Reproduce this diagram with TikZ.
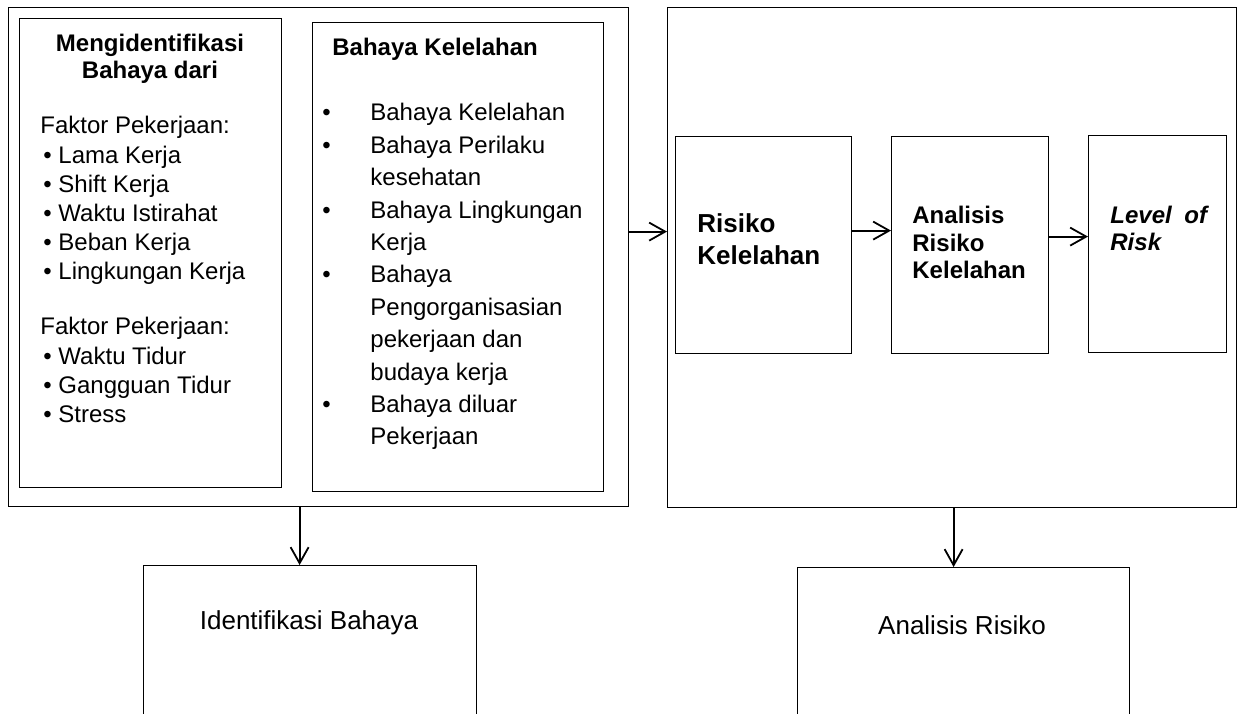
\documentclass[tikz,border=0pt]{standalone}
\usepackage{fontspec}
\setmainfont{Liberation Sans}
\usetikzlibrary{arrows.meta}
\newcommand{\bulmark}{\makebox[24pt][l]{•}}
\newcommand{\bulgap}{\hspace*{24pt}}
\tikzset{
  bx/.style={draw,line width=0.6pt,inner sep=0,anchor=north west},
  txt/.style={inner sep=0,anchor=north west,align=left,font=\fontsize{12}{#1}\selectfont},
  arr/.style={-{Straight Barb[length=8pt,width=9pt]},line width=0.9pt},
}
\begin{document}
\begin{tikzpicture}[x=0.5pt,y=-0.5pt]
\useasboundingbox (0,0) rectangle (1240,713);
\clip (0,0) rectangle (1240,713);
% outer frames
\node[bx,minimum width=310pt,minimum height=249.5pt] (outL) at (8,7) {};
\node[bx,minimum width=284.5pt,minimum height=250pt] (outR) at (667,7) {};
% left side
\node[bx,minimum width=131pt,minimum height=234.5pt] (faktor) at (19,18) {};
\node[bx,minimum width=145.5pt,minimum height=234.5pt] (bahaya) at (312,22) {};
\node[txt=13.5pt,anchor=north,align=center,font=\fontsize{12}{13.5}\selectfont\bfseries] (hdfak) at (150,34)
  {Mengidentifikasi\\Bahaya dari};
\node[txt=14.6pt] (lsfak) at (40,116)
  {Faktor Pekerjaan:\\
   \hspace{1.5pt}• Lama Kerja\\
   \hspace{1.5pt}• Shift Kerja\\
   \hspace{1.5pt}• Waktu Istirahat\\
   \hspace{1.5pt}• Beban Kerja\\
   \hspace{1.5pt}• Lingkungan Kerja\\[12.9pt]
   Faktor Pekerjaan:\\
   \hspace{1.5pt}• Waktu Tidur\\
   \hspace{1.5pt}• Gangguan Tidur\\
   \hspace{1.5pt}• Stress};
\node[txt=14pt,font=\fontsize{12}{14}\selectfont\bfseries] (hdbah) at (332,38) {Bahaya Kelelahan};
\node[txt=16.2pt] (lsbah) at (322,103)
  {\bulmark Bahaya Kelelahan\\
   \bulmark Bahaya Perilaku\\
   \bulgap kesehatan\\
   \bulmark Bahaya Lingkungan\\
   \bulgap Kerja\\
   \bulmark Bahaya\\
   \bulgap Pengorganisasian\\
   \bulgap pekerjaan dan\\
   \bulgap budaya kerja\\
   \bulmark Bahaya diluar\\
   \bulgap Pekerjaan};
% right side
\node[bx,minimum width=88pt,minimum height=108.5pt] (risk) at (675,136) {};
\node[bx,minimum width=78.5pt,minimum height=108.5pt] (anal) at (891,136) {};
\node[bx,minimum width=69pt,minimum height=108.5pt] (lvl) at (1088,135) {};
\node[txt=16pt,font=\fontsize{13}{16}\selectfont\bfseries] (trisk) at (697,213) {Risiko\\Kelelahan};
\node[txt=13.75pt,font=\fontsize{12}{13.75}\selectfont\bfseries] (tanal) at (912,206) {Analisis\\Risiko\\Kelelahan};
\node[txt=13.5pt,font=\fontsize{12}{13.5}\selectfont\bfseries\itshape] (tlvl) at (1110,206) {Level\hspace{3pt} of\\Risk};
% bottom boxes
\node[bx,minimum width=166.5pt,minimum height=80pt] (idbox) at (143,565) {};
\node[bx,minimum width=166pt,minimum height=80pt] (anbox) at (797,567) {};
\node[font=\fontsize{13}{15}\selectfont] (tid) at (309,623) {Identifikasi Bahaya};
\node[font=\fontsize{13}{15}\selectfont] (tan) at (962,625) {Analisis Risiko};
% arrows
\draw[arr] ([yshift=12.75pt]outL.east) -- ([yshift=12.75pt]outL.east -| outR.west);
\draw[arr] ([yshift=7.25pt]risk.east) -- ([yshift=7.25pt]risk.east -| anal.west);
\draw[arr] ([yshift=4.25pt]anal.east) -- ([yshift=4.25pt]anal.east -| lvl.west);
\draw[arr] ([xshift=-5.25pt]idbox.north |- outL.south) -- ([xshift=-5.25pt]idbox.north);
\draw[arr] ([xshift=-5pt]anbox.north |- outR.south) -- ([xshift=-5pt]anbox.north);
\end{tikzpicture}
\end{document}
